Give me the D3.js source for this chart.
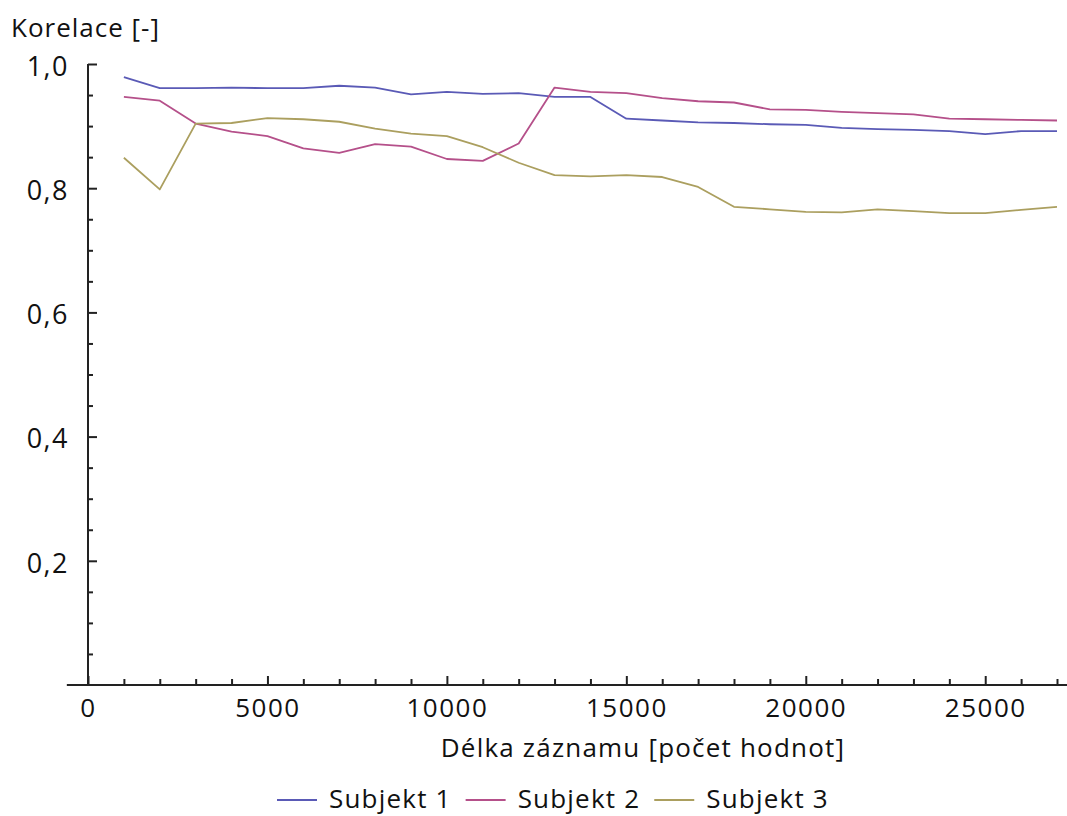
<!DOCTYPE html>
<html>
<head>
<meta charset="utf-8">
<script src="https://cdn.jsdelivr.net/npm/d3@7"></script>
<style>
  html, body { margin: 0; padding: 0; background: #fff; }
  svg { display: block; }
  text { font-family: "Open Sans", "Noto Sans", sans-serif; fill: #111; }
</style>
</head>
<body>
<svg id="chart" width="1067" height="816"></svg>
<script>
// ---- data ----
const lengths = [1000, 2000, 3000, 4000, 5000, 6000, 7000, 8000, 9000, 10000,
  11000, 12000, 13000, 14000, 15000, 16000, 17000, 18000, 19000, 20000,
  21000, 22000, 23000, 24000, 25000, 26000, 27000];
const subjekt1 = [0.979, 0.961, 0.961, 0.962, 0.961, 0.961, 0.965, 0.962, 0.951, 0.955,
  0.952, 0.953, 0.947, 0.947, 0.912, 0.909, 0.906, 0.905, 0.903, 0.902,
  0.897, 0.895, 0.894, 0.892, 0.887, 0.892, 0.892];
const subjekt2 = [0.947, 0.941, 0.904, 0.891, 0.884, 0.864, 0.857, 0.871, 0.867, 0.847,
  0.844, 0.872, 0.962, 0.955, 0.953, 0.945, 0.940, 0.938, 0.927, 0.926,
  0.923, 0.921, 0.919, 0.912, 0.911, 0.910, 0.909];
const subjekt3 = [0.849, 0.798, 0.904, 0.905, 0.913, 0.911, 0.907, 0.896, 0.888, 0.884,
  0.866, 0.841, 0.821, 0.819, 0.821, 0.818, 0.802, 0.770, 0.766, 0.762,
  0.761, 0.766, 0.763, 0.760, 0.760, 0.765, 0.770];
const seriesNames = ["Subjekt 1", "Subjekt 2", "Subjekt 3"];
const seriesColors = ["#5a5ab6", "#b5508a", "#ab9f5f"];
const xTickLabels = [0, 5000, 10000, 15000, 20000, 25000];
const xMinorTicks = [1000, 2000, 3000, 4000, 6000, 7000, 8000, 9000, 11000, 12000, 13000, 14000,
  16000, 17000, 18000, 19000, 21000, 22000, 23000, 24000, 26000, 27000];
const yTickLabels = [0.2, 0.4, 0.6, 0.8, 1.0];
const yMinorTicks = [0.05, 0.1, 0.15, 0.25, 0.3, 0.35, 0.45, 0.5, 0.55, 0.65, 0.7, 0.75, 0.85, 0.9, 0.95];
const yTitle = "Korelace [-]";
const xTitle = "Délka záznamu [počet hodnot]";

// ---- chart ----
const svg = d3.select("#chart");
const x = d3.scaleLinear().domain([0, 27000]).range([88, 1057]);
const y = d3.scaleLinear().domain([0, 1]).range([685, 64]);
const locale = d3.formatLocale({decimal: ",", thousands: "", grouping: [3]});
const fmtY = locale.format(".1f");
const axisColor = "#222";
const fontFam = "'Open Sans', 'Noto Sans', sans-serif";

// x axis
const gx = svg.append("g").attr("transform", `translate(0,${y(0)})`);
gx.call(d3.axisBottom(x).tickValues(xMinorTicks).tickSize(-6).tickFormat(""));
gx.select(".domain").remove();
const gxMaj = svg.append("g").attr("transform", `translate(0,${y(0)})`);
gxMaj.call(d3.axisBottom(x).tickValues(xTickLabels).tickSize(-9).tickPadding(14).tickFormat(d3.format("d")));
gxMaj.select(".domain").remove();
gxMaj.selectAll(".tick text").attr("font-size", 26).style("letter-spacing", "1.5px")
  .attr("font-family", fontFam).attr("fill", "#111");

// y axis
const gy = svg.append("g").attr("transform", `translate(${x(0)},0)`);
gy.call(d3.axisLeft(y).tickValues(yMinorTicks).tickSize(-5).tickFormat(""));
gy.select(".domain").remove();
const gyMaj = svg.append("g").attr("transform", `translate(${x(0)},0)`);
gyMaj.call(d3.axisLeft(y).tickValues(yTickLabels).tickSize(-9).tickPadding(19).tickFormat(fmtY));
gyMaj.select(".domain").remove();
gyMaj.selectAll(".tick text").attr("font-size", 27).attr("dy", "0.42em").style("letter-spacing", "1.5px")
  .attr("font-family", fontFam).attr("fill", "#111");
svg.selectAll(".tick line").attr("stroke", axisColor).attr("stroke-width", 2);

svg.append("line")
  .attr("x1", x(-590)).attr("x2", x(27280))
  .attr("y1", y(0)).attr("y2", y(0))
  .attr("stroke", axisColor).attr("stroke-width", 2);
svg.append("line")
  .attr("x1", x(0)).attr("x2", x(0))
  .attr("y1", y(0)).attr("y2", y(1))
  .attr("stroke", axisColor).attr("stroke-width", 2);

// titles
svg.append("text").attr("x", 11).attr("y", 37).attr("font-size", 26)
  .style("letter-spacing", "1px").text(yTitle);
svg.append("text").attr("x", 643).attr("y", 757).attr("text-anchor", "middle")
  .attr("font-size", 26).style("letter-spacing", "1.2px").text(xTitle);

// lines
const allSeries = [subjekt1, subjekt2, subjekt3];
const line = d3.line().x((d, i) => x(lengths[i])).y(d => y(d));
allSeries.forEach((s, k) => {
  svg.append("path").datum(s)
    .attr("fill", "none").attr("stroke", seriesColors[k])
    .attr("stroke-width", 1.8).attr("stroke-linejoin", "round")
    .attr("d", line);
});

// legend
const legend = svg.append("g");
let lx = 277;
seriesNames.forEach((name, k) => {
  legend.append("line").attr("x1", lx).attr("x2", lx + 40)
    .attr("y1", 800).attr("y2", 800)
    .attr("stroke", seriesColors[k]).attr("stroke-width", 2);
  const t = legend.append("text").attr("x", lx + 52).attr("y", 808)
    .attr("font-size", 26).style("letter-spacing", "1.2px").text(name);
  lx += 52 + t.node().getComputedTextLength() + 14;
});
</script>
</body>
</html>
